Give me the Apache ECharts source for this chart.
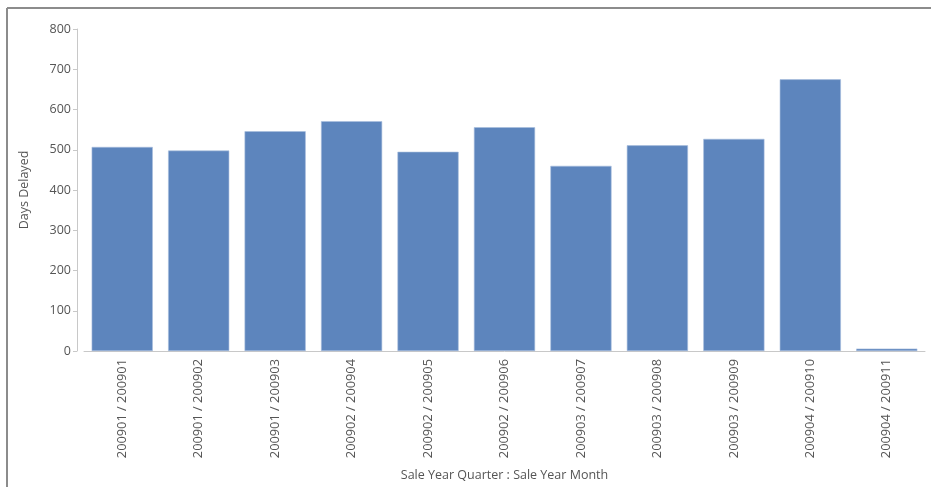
<!DOCTYPE html>
<html>
<head>
<meta charset="utf-8">
<script src="https://cdn.jsdelivr.net/npm/echarts@6/dist/echarts.min.js"></script>
<style>html,body{margin:0;padding:0;background:#fff;}#main{width:931px;height:487px;}</style>
</head>
<body>
<div id="main"></div>
<script>
const categories = ['200901 / 200901','200901 / 200902','200901 / 200903','200902 / 200904','200902 / 200905','200902 / 200906','200903 / 200907','200903 / 200908','200903 / 200909','200904 / 200910','200904 / 200911'];
const daysDelayed = [507, 498, 546, 571, 495, 556, 460, 511, 527, 675, 6];
const yTicks = [0, 100, 200, 300, 400, 500, 600, 700, 800];

const chart = echarts.init(document.getElementById('main'));
const font = '"Open Sans", "Noto Sans", sans-serif';
chart.setOption({
  animation: false,
  textStyle: {fontFamily: font},
  graphic: [
    {type: 'line', shape: {x1: 7, y1: 8, x2: 931, y2: 8}, style: {stroke: '#8c8c8c', lineWidth: 2}},
    {type: 'line', shape: {x1: 7, y1: 8, x2: 7, y2: 487}, style: {stroke: '#8c8c8c', lineWidth: 2}}
  ],
  grid: {left: 84, right: 6, top: 29, bottom: 134, containLabel: false},
  xAxis: {
    type: 'category',
    data: categories,
    name: 'Sale Year Quarter : Sale Year Month',
    nameLocation: 'middle',
    nameGap: 118,
    nameTextStyle: {color: '#555', fontSize: 12.5, fontFamily: font},
    axisLine: {lineStyle: {color: '#c8c8c8'}},
    axisTick: {show: false},
    axisLabel: {rotate: 90, color: '#555', fontSize: 12.8, margin: 8, fontFamily: font, interval: 0}
  },
  yAxis: {
    type: 'value',
    min: yTicks[0],
    max: yTicks[yTicks.length - 1],
    interval: 100,
    offset: 7,
    name: 'Days Delayed',
    nameLocation: 'middle',
    nameGap: 46,
    nameTextStyle: {color: '#555', fontSize: 12.5, fontFamily: font},
    axisLine: {show: true, lineStyle: {color: '#c8c8c8'}},
    axisTick: {show: true, length: 4, lineStyle: {color: '#c8c8c8'}},
    axisLabel: {color: '#555', fontSize: 12.5, margin: 6, fontFamily: font},
    splitLine: {show: false}
  },
  series: [{
    type: 'bar',
    data: daysDelayed,
    barCategoryGap: '20%',
    itemStyle: {color: '#5d85bd', borderColor: '#a8bddd', borderWidth: 0.6}
  }]
});
</script>
</body>
</html>
